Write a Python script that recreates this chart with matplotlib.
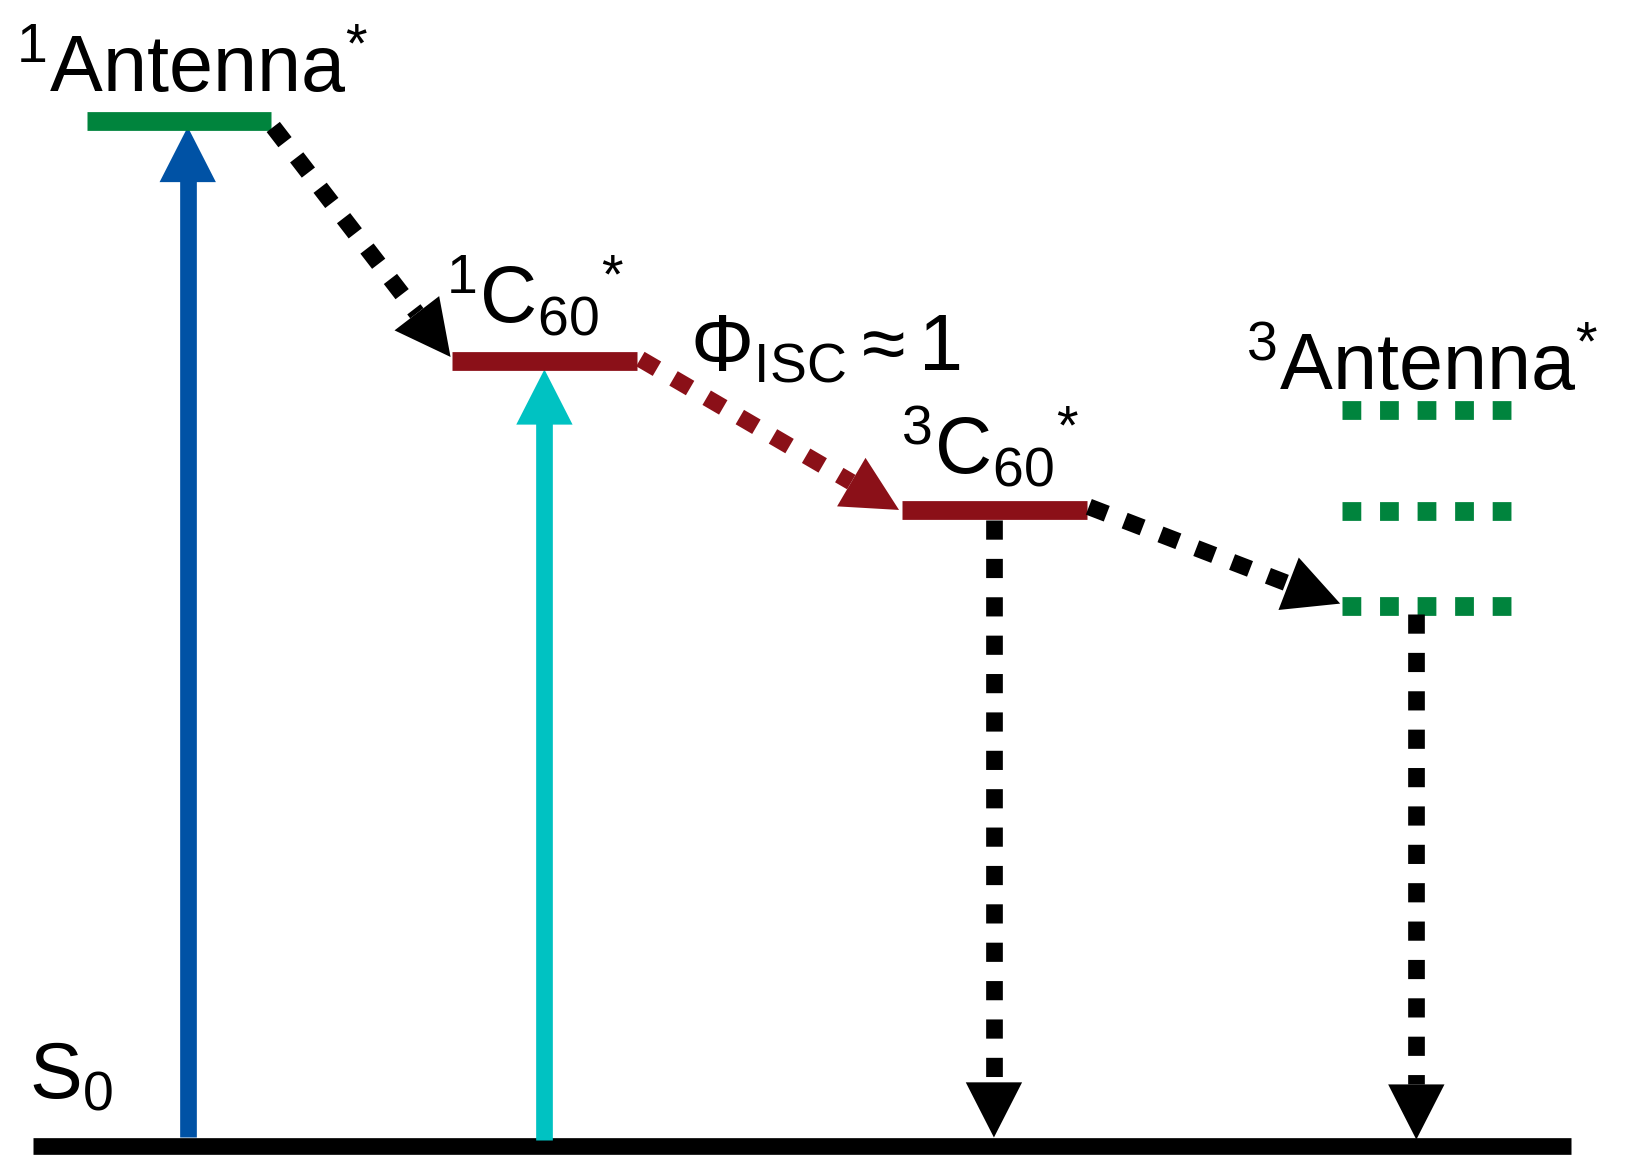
import matplotlib
matplotlib.use("Agg")
import matplotlib.pyplot as plt
import numpy as np
from matplotlib.patches import Polygon

plt.rcParams['font.family'] = ['Liberation Sans', 'DejaVu Sans']
plt.rcParams['mathtext.fontset'] = 'custom'
plt.rcParams['mathtext.rm'] = 'Liberation Sans'
plt.rcParams['mathtext.it'] = 'Liberation Sans'
plt.rcParams['mathtext.cal'] = 'Liberation Serif'

W, H = 1560, 1130
S = 1627 / W * 0.72  # px -> pt

# levels: (x0, x1, y, color, style)
level_x0 = [83, 433, 865, 1287, 1287, 1287, 32]
level_x1 = [260, 611, 1042, 1450, 1450, 1450, 1506]
level_y = [116, 347, 490, 394, 491, 582, 1101]
level_col = ['#00843D', '#8B1018', '#8B1018', '#00843D', '#00843D', '#00843D', 'black']
level_dot = [False, False, False, True, True, True, False]

# arrows: start, end, color, dotted
arr_start = [(180, 1093), (522, 1095), (262, 122), (614, 345), (1044, 487), (953, 500), (1358, 590)]
arr_end = [(180, 122), (522, 355), (432, 343), (862, 490), (1285, 580), (953, 1093), (1358, 1095)]
arr_col = ['#0052A5', '#00C2C2', 'black', '#8B1018', 'black', 'black', 'black']
arr_dot = [False, False, True, True, True, True, True]

labels = [r'$^{1}$Antenna$^{*}$', r'$^{1}$C$_{60}$$^{*}$', r'$\Phi_{\rm ISC}\approx 1$',
          r'$^{3}$C$_{60}$$^{*}$', r'$^{3}$Antenna$^{*}$', r'S$_{0}$']
label_xy = [(15, 88), (428, 310), (662, 355), (864, 455), (1195, 375), (28, 1055)]

fig = plt.figure(figsize=(16.27, 11.76), dpi=100)
ax = fig.add_axes([0, 0, 1, 1])
ax.set_xlim(0, W); ax.set_ylim(H, 0); ax.axis('off')

for x0, x1, y, c, d in zip(level_x0, level_x1, level_y, level_col, level_dot):
    lw = 18 * S
    if d:
        ax.plot([x0, x1], [y, y], color=c, lw=lw, solid_capstyle='butt', dash_capstyle='butt',
                linestyle=(0, (1, 1)))
    else:
        ax.plot([x0, x1], [y, y], color=c, lw=(16 if c == 'black' else 18) * S, solid_capstyle='butt')

for (sx, sy), (ex, ey), c, d in zip(arr_start, arr_end, arr_col, arr_dot):
    v = np.array([ex - sx, ey - sy], float); L = np.linalg.norm(v); u = v / L
    n = np.array([-u[1], u[0]])
    hl, hw = 53, 27
    base = np.array([ex, ey]) - u * hl
    if d:
        ax.plot([sx, base[0]], [sy, base[1]], color=c, lw=16 * S, dash_capstyle='butt',
                linestyle=(0, (1.15, 1.15)))
    else:
        ax.plot([sx, base[0] + u[0] * 5], [sy, base[1] + u[1] * 5], color=c, lw=16 * S, solid_capstyle='butt')
    ax.add_patch(Polygon([(ex, ey), base + n * hw, base - n * hw], closed=True, color=c, lw=0))

for t, (x, y) in zip(labels, label_xy):
    ax.text(x, y, t, fontsize=57, ha='left', va='baseline')

fig.savefig('out.png', dpi=100)
